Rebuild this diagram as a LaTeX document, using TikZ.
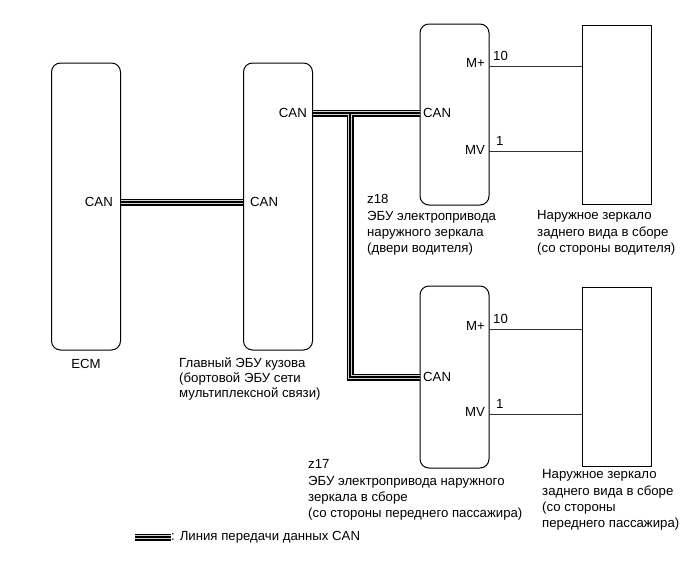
\documentclass[tikz,border=0pt]{standalone}
\usepackage{fontspec}
\setmainfont{Liberation Sans}
\usetikzlibrary{positioning}

\tikzset{
  ecu/.style={draw, rounded corners=9pt, line width=1pt, minimum width=69pt, inner sep=0pt},
  mirror/.style={draw, line width=1pt, minimum width=69pt, inner sep=0pt},
  lbl/.style={inner sep=0pt, font=\fontsize{13.2}{16.3}\selectfont},
  desc/.style={lbl, align=left, anchor=north west},
  canbus/.style={draw=black, line width=7pt,
    postaction={draw=gray!35, line width=4.2pt},
    postaction={draw=black, line width=1.4pt}},
  wire/.style={draw=black!80, line width=0.7pt}
}

\begin{document}
\begin{tikzpicture}[x=1pt, y=-1pt]
    \useasboundingbox (0,0) rectangle (691,562);
    % blocks
    \node (ecm) [ecu, minimum height=287pt] at (86,206.5) {};
    \node (body) [ecu, minimum height=287pt] at (278,206.5) {};
    \node (z18) [ecu, minimum height=181pt] at (454.5,114.5) {};
    \node (z17) [ecu, minimum height=182pt] at (454.5,377) {};
    \node (mir1) [mirror, minimum height=179pt] at (616.5,114.5) {};
    \node (mir2) [mirror, minimum height=179pt] at (616.5,376.5) {};

    % CAN pins
    \node (ecmcan) [lbl, anchor=east] at (113,202) {CAN};
    \node (bodycanl) [lbl, anchor=west] at (250,202) {CAN};
    \node (bodycanu) [lbl, anchor=east] at (307,113) {CAN};
    \node (z18can) [lbl, anchor=west] at (423,113) {CAN};
    \node (z17can) [lbl, anchor=west] at (423,377) {CAN};

    % CAN bus
    \coordinate (split) at (350,113);
    \draw[canbus] (ecm.east |- ecmcan) -- (body.west |- bodycanl);
    \draw[canbus] (body.east |- bodycanu) -- (z18.west |- z18can)
        (split) |- (z17.west |- z17can);

    % mirror wires
    \coordinate (z18mp) at (489,66);
    \coordinate (z18mv) at (489,151);
    \coordinate (z17mp) at (489,329);
    \coordinate (z17mv) at (489,414);
    \draw[wire] (z18mp) -- (mir1.west |- z18mp);
    \draw[wire] (z18mv) -- (mir1.west |- z18mv);
    \draw[wire] (z17mp) -- (mir2.west |- z17mp);
    \draw[wire] (z17mv) -- (mir2.west |- z17mv);
    \node (z18mplbl) [lbl, anchor=east] at (485,63) {M+};
    \node (z18mvlbl) [lbl, anchor=east] at (485,150) {MV};
    \node (z17mplbl) [lbl, anchor=east] at (485,326) {M+};
    \node (z17mvlbl) [lbl, anchor=east] at (485,412) {MV};
    \node (z18pin10) [lbl, anchor=west] at (493,56) {10};
    \node (z18pin1) [lbl, anchor=west] at (496,141) {1};
    \node (z17pin10) [lbl, anchor=west] at (493,319) {10};
    \node (z17pin1) [lbl, anchor=west] at (496,404) {1};

    % captions
    \node (ecmtxt) [lbl] at (86,364) {ECM};
    \node (bodytxt) [desc, font=\fontsize{13.2}{15}\selectfont] at (179,357.5)
        {Главный ЭБУ кузова\\(бортовой ЭБУ сети\\мультиплексной связи)};
    \node (z18txt) [desc] at (367,194.5)
        {z18\\ЭБУ электропривода\\наружного зеркала\\(двери водителя)};
    \node (mir1txt) [desc] at (537,210.5)
        {Наружное зеркало\\заднего вида в сборе\\(со стороны водителя)};
    \node (z17txt) [desc] at (308,459.5)
        {z17\\ЭБУ электропривода наружного\\зеркала в сборе\\(со стороны переднего пассажира)};
    \node (mir2txt) [desc] at (542,469.5)
        {Наружное зеркало\\заднего вида в сборе\\(со стороны\\переднего пассажира)};

    % legend
    \node (legtxt) [lbl, anchor=west] at (171,537) {: Линия передачи данных CAN};
    \coordinate (legstart) at (135,537);
    \draw[canbus] (legstart) -- (legtxt.west);
\end{tikzpicture}
\end{document}
